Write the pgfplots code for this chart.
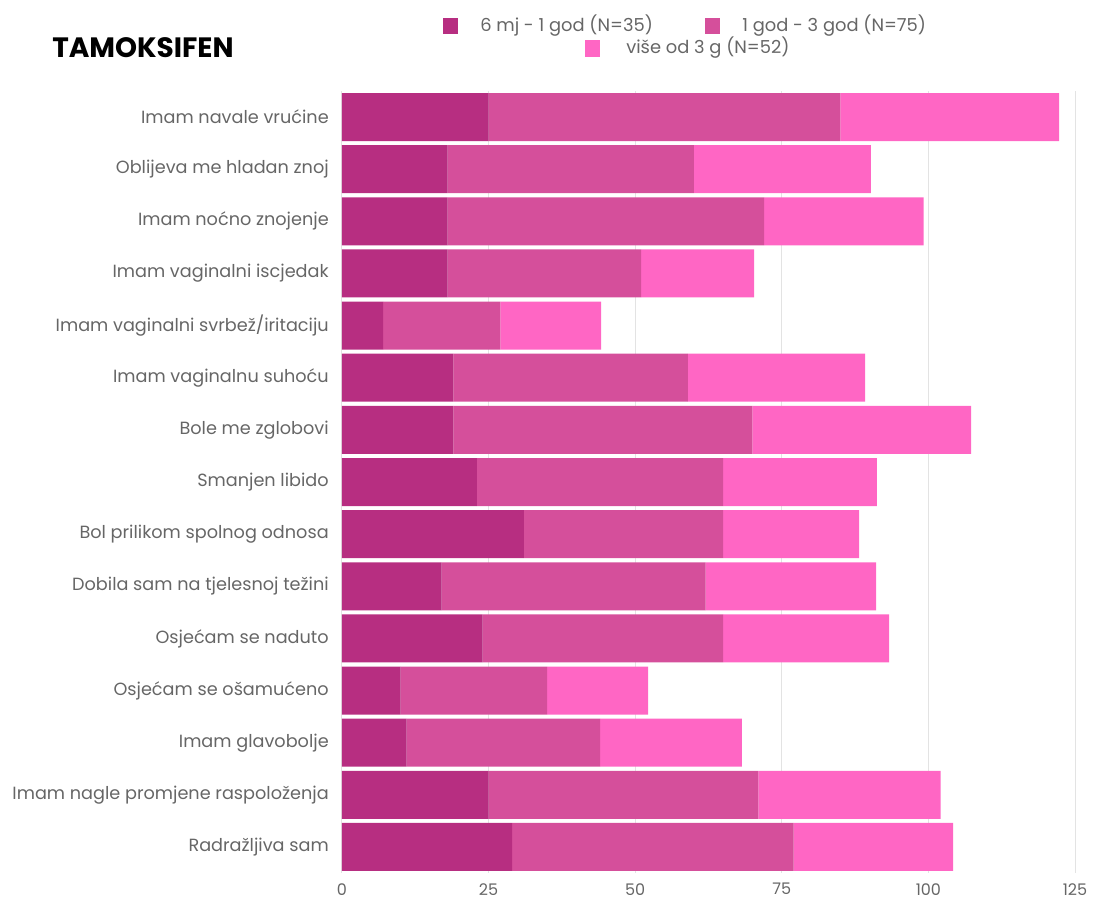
\documentclass[border=0pt]{standalone}
\usepackage{pgfplots}
\pgfplotsset{compat=1.18}
\usepackage{pgfplotstable}
\usepackage{fontspec}
\setmainfont{Poppins}
\definecolor{cA}{HTML}{B72E81}
\definecolor{cB}{HTML}{D54F9B}
\definecolor{cC}{HTML}{FF66C4}
\definecolor{txt}{HTML}{666666}
\definecolor{gridc}{HTML}{E3E3E3}

\pgfplotstableread{
y a b c
0 25 60 37.3
1 18 42 30.2
2 18 54 27.2
3 18 33 19.3
4 7 20 17.2
5 19 40 30.2
6 19 51 37.3
7 23 42 26.2
8 31 34 23.2
9 17 45 29.1
10 24 41 28.3
11 10 25 17.2
12 11 33 24.2
13 25 46 31.1
14 29 48 27.2
}\data

\def\px{0.75pt}
\begin{document}
\begin{tikzpicture}
\path (0,0) rectangle ({1093*\px},{899*\px});
\begin{axis}[
  at={({342*\px},{(899-873)*\px})}, anchor=south west,
  scale only axis, width={733*\px}, height={782*\px},
  xbar stacked, bar width={48*\px},
  xmin=0, xmax=125, ymin=-0.5, ymax=14.5, y dir=reverse,
  ytick={0,...,14},
  yticklabels={Imam navale vrućine, Oblijeva me hladan znoj, Imam noćno znojenje, Imam vaginalni iscjedak, Imam vaginalni svrbež/iritaciju, Imam vaginalnu suhoću, Bole me zglobovi, Smanjen libido, Bol prilikom spolnog odnosa, Dobila sam na tjelesnoj težini, Osjećam se naduto, Osjećam se ošamućeno, Imam glavobolje, Imam nagle promjene raspoloženja, Radražljiva sam},
  xtick={0,25,50,75,100,125},
  xmajorgrids, grid style={gridc, line width=0.75pt},
  axis line style={draw=none}, major tick length=0pt,
  tick label style={txt, font=\fontsize{13.25}{15}\selectfont},
  xticklabel style={inner sep=0pt, yshift={-10*\px}, font=\fontsize{12}{13}\selectfont},
  yticklabel style={inner sep=0pt, xshift={-13*\px}},
  /pgf/number format/assume math mode=true,
  clip=false,
]
\addplot[fill=cA, draw=none] table[x=a, y=y] {\data};
\addplot[fill=cB, draw=none] table[x=b, y=y] {\data};
\addplot[fill=cC, draw=none] table[x=c, y=y] {\data};
\end{axis}
\node[anchor=west, inner sep=0pt, font=\fontsize{21}{24}\selectfont\bfseries] at ({52*\px},{(899-48)*\px}) {TAMOKSIFEN};
% legend
\fill[cA] ({443*\px},{(899-18)*\px}) rectangle ({458*\px},{(899-34)*\px});
\node[anchor=west, inner sep=0pt, txt, font=\fontsize{13.4}{16}\selectfont] at ({480*\px},{(899-26)*\px}) {6 mj - 1 god (N=35)};
\fill[cB] ({705*\px},{(899-18)*\px}) rectangle ({720*\px},{(899-34)*\px});
\node[anchor=west, inner sep=0pt, txt, font=\fontsize{13.4}{16}\selectfont] at ({742*\px},{(899-26)*\px}) {1 god - 3 god (N=75)};
\fill[cC] ({585*\px},{(899-40)*\px}) rectangle ({600*\px},{(899-57)*\px});
\node[anchor=west, inner sep=0pt, txt, font=\fontsize{13.4}{16}\selectfont] at ({626*\px},{(899-48)*\px}) {više od 3 g (N=52)};
\end{tikzpicture}
\end{document}
